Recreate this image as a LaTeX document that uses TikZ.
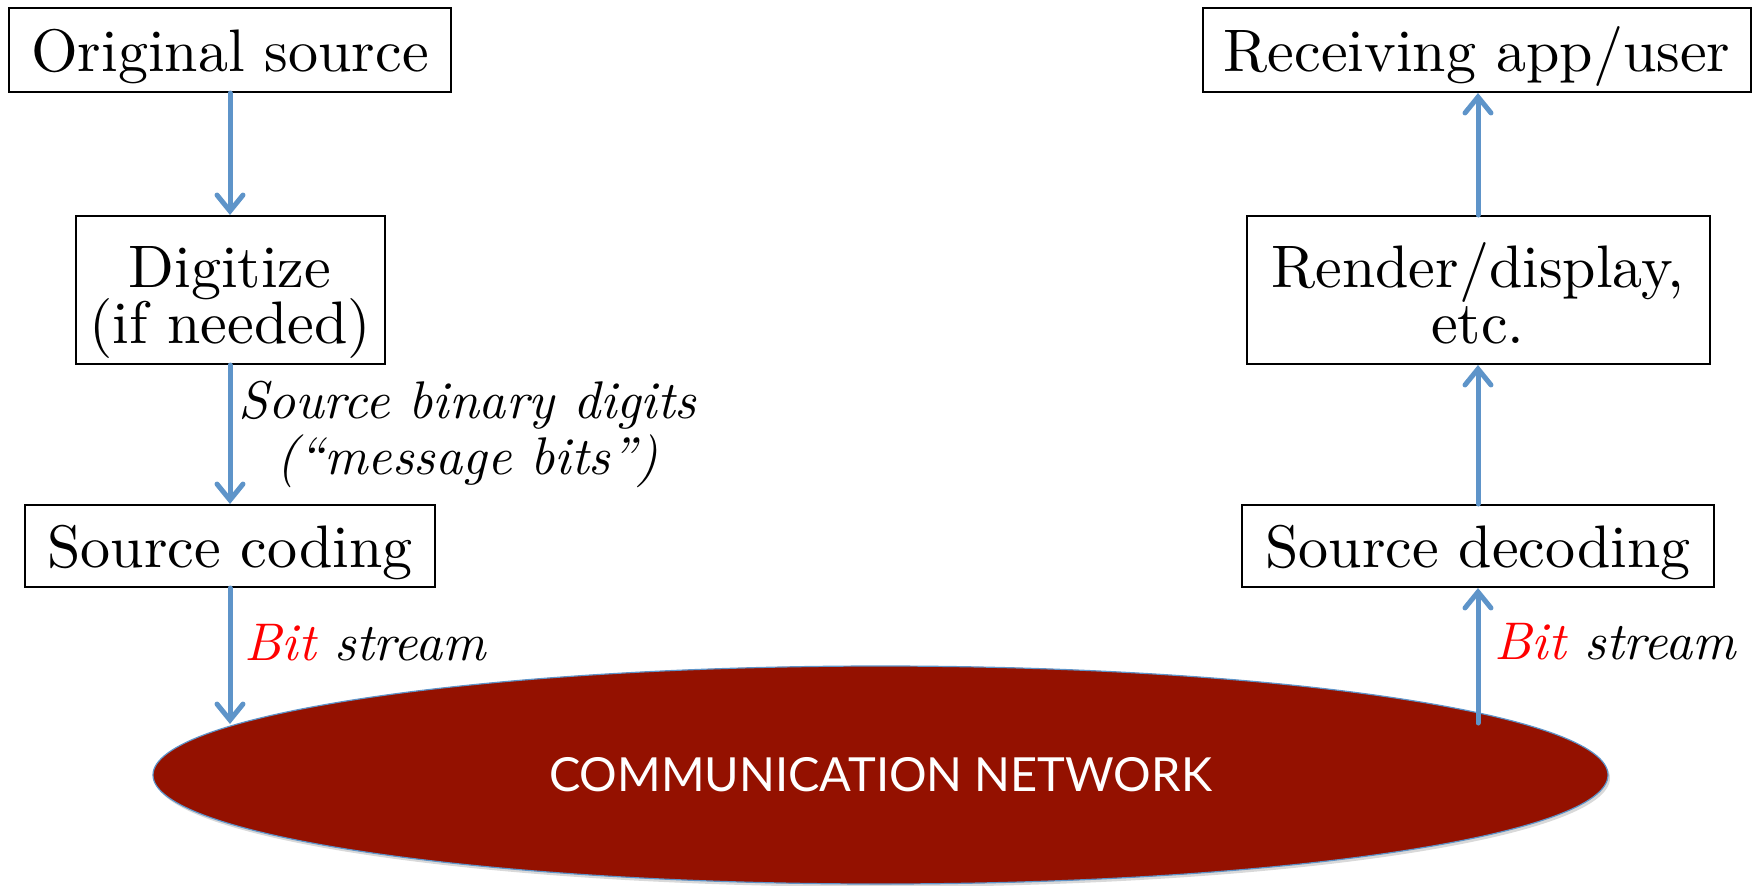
\documentclass[tikz,border=0pt]{standalone}
\usepackage{fontspec}
\newfontfamily\netfont{Lato}
\newfontfamily\boxfont{lmroman10-regular.otf}
\newfontfamily\lblfont{lmroman10-italic.otf}
\usetikzlibrary{arrows.meta,shapes.geometric,shadows}
\definecolor{arrblue}{RGB}{94,148,201}
\definecolor{netred}{RGB}{148,17,0}
\definecolor{bitred}{RGB}{255,0,0}
\newcommand{\tightlines}{\setlength{\lineskiplimit}{-60pt}}
\begin{document}
\begin{tikzpicture}[x=0.5pt,y=-0.5pt,
 box/.style={draw=black, line width=1pt, rectangle, inner sep=0pt, align=center,
   font=\boxfont\fontsize{30}{28}\selectfont, execute at begin node=\tightlines},
 box1/.style={box, text height=27pt, text depth=6pt},
 box2/.style={box, text height=58pt, text depth=5pt},
 arr/.style={draw=arrblue, line width=2.5pt, line cap=round, -{Straight Barb[length=8pt,width=13pt,line cap=round]}},
 lbl/.style={font=\lblfont\fontsize{26.5}{28}\selectfont, align=center, inner sep=0pt}]
\useasboundingbox (0,0) rectangle (1753,885);

\node[ellipse, fill=netred, draw=arrblue, line width=0.6pt, minimum width=727.5pt, minimum height=109pt, inner sep=0pt,
  drop shadow={opacity=0.3, shadow xshift=1pt, shadow yshift=-1.5pt},
  text=white, font=\netfont\fontsize{23.5}{26}\selectfont] (net) at (880.5,775) {\raisebox{-3pt}{COMMUNICATION NETWORK}};

\node[box1, minimum width=221pt, minimum height=42pt] (orig) at (230,50) {Original source};
\node[box2, minimum width=154.5pt, minimum height=74pt] (digit) at (230,290) {Digitize\\(if needed)};
\node[box1, minimum width=205pt, minimum height=41pt] (scod) at (230,546) {Source coding};
\node[box1, minimum width=274pt, minimum height=42pt] (recv) at (1477,50) {Receiving app/user};
\node[box2, minimum width=231.5pt, minimum height=74pt] (rend) at (1478,290) {Render/display,\\etc.};
\node[box1, minimum width=236pt, minimum height=41pt] (sdec) at (1478,546) {Source decoding};

\coordinate (lnet) at (230,724);
\coordinate (rnet) at (1478,723);

\draw[arr] (orig.south) -- (digit.north);
\draw[arr] (digit.south) -- node[lbl, right=3pt] {Source binary digits\\(“message bits”)} (scod.north);
\draw[arr] (scod.south) -- node[lbl, right=6pt, pos=0.4] {\textcolor{bitred}{Bit} stream} (lnet);

\draw[arr] (rnet) -- node[lbl, right=7pt, pos=0.6] {\textcolor{bitred}{Bit} stream} (sdec.south);
\draw[arr] (sdec.north) -- (rend.south);
\draw[arr] (rend.north) -- (rend.north |- recv.south);
\end{tikzpicture}
\end{document}
